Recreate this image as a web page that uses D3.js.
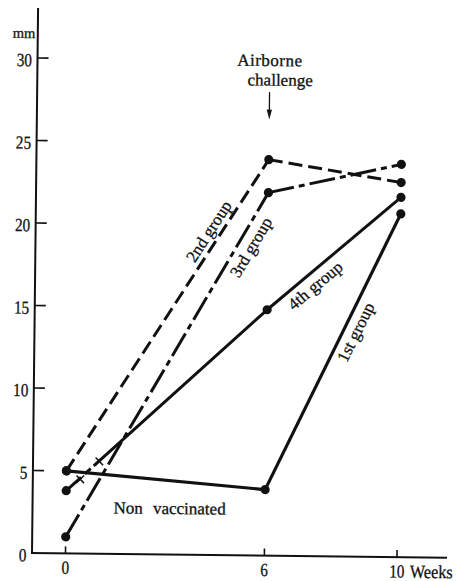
<!DOCTYPE html>
<html>
<head>
<meta charset="utf-8">
<script src="https://cdn.jsdelivr.net/npm/d3@7"></script>
<style>
  html, body { margin: 0; padding: 0; background: #fff; }
  svg { display: block; }
  text { stroke: #111; stroke-width: 0.3px; }
</style>
</head>
<body>
<svg id="chart" width="460" height="581"></svg>
<script>
// Skin reaction (mm) per group, measured at weeks 0, 6 and 10
const weeks = [0, 6, 10];
const firstGroup  = [5.0, 4.0, 20.8];   // non vaccinated until week 6
const secondGroup = [5.0, 24.0, 22.7];
const thirdGroup  = [1.0, 22.0, 23.8];
const fourthGroup = [3.8, 14.9, 21.8];

// intermediate readings marked with a cross on the 4th group
const crossWeeks  = [0.42, 0.99];
const crossValues = [4.5, 5.6];

const yTicks = [0, 5, 10, 15, 20, 25, 30];
const yTickLabels = ["0", "5", "10", "15", "20", "25", "30"];
const xTicks = [0, 6, 10];
const xTickLabels = ["0", "6", "10"];

const serif = "'Liberation Serif', 'DejaVu Serif', serif";

const svg = d3.select("#chart");

const x = d3.scaleLinear().domain([0, 10]).range([65.5, 397]);
const y = d3.scaleLinear().domain([0, 30]).range([553, 58]);
const axisLeft = 32, axisBottom = 553, axisTop = 8, axisRight = 447;

// the printed figure sits slightly askew on the page
const g = svg.append("g")
  .attr("transform", `rotate(0.64, ${axisLeft}, ${axisBottom})`)
  .attr("font-family", serif)
  .attr("fill", "#111");

// axes
g.append("line").attr("x1", axisLeft).attr("x2", axisLeft).attr("y1", axisTop).attr("y2", axisBottom)
  .attr("stroke", "#111").attr("stroke-width", 2);
g.append("line").attr("x1", axisLeft - 1).attr("x2", axisRight).attr("y1", axisBottom).attr("y2", axisBottom)
  .attr("stroke", "#111").attr("stroke-width", 2);

yTicks.forEach((v, i) => {
  if (v > 0) {
    g.append("line").attr("x1", axisLeft).attr("x2", axisLeft + 11).attr("y1", y(v)).attr("y2", y(v))
      .attr("stroke", "#111").attr("stroke-width", 1.6);
  }
  g.append("text")
    .attr("transform", `translate(${axisLeft - 5.5},${y(v) + 8.3}) scale(0.82,1)`)
    .attr("text-anchor", "end").attr("font-size", 18.5)
    .text(yTickLabels[i]);
});

xTicks.forEach((w, i) => {
  g.append("line").attr("x1", x(w)).attr("x2", x(w)).attr("y1", axisBottom).attr("y2", axisBottom - 7)
    .attr("stroke", "#111").attr("stroke-width", 1.6);
  g.append("text")
    .attr("transform", `translate(${x(w)},${axisBottom + 20.5}) scale(0.82,1)`)
    .attr("text-anchor", "middle").attr("font-size", 18.5)
    .text(xTickLabels[i]);
});
g.append("text")
  .attr("transform", `translate(${x(10) + 13},${axisBottom + 20.5}) scale(0.88,1)`)
  .attr("font-size", 18.5).text("Weeks");

g.append("text").attr("x", 7).attr("y", 38).attr("font-size", 14.5).text("mm");

// series lines, drawn segment by segment so each dash pattern restarts at a reading
const series = [
  { values: firstGroup,  dash: null,       width: 3.2 },
  { values: secondGroup, dash: "14,6",     width: 3 },
  { values: thirdGroup,  dash: "26,5,6,5", width: 3 },
  { values: fourthGroup, dash: null,       width: 3 }
];
const line = d3.line().x(d => x(d[0])).y(d => y(d[1]));

series.forEach((s, k) => {
  const pts = weeks.map((w, i) => [w, s.values[i]]);
  for (let i = 0; i < pts.length - 1; i++) {
    const p = g.append("path").attr("d", line([pts[i], pts[i + 1]]))
      .attr("fill", "none").attr("stroke", "#111").attr("stroke-width", s.width);
    if (s.dash) p.attr("stroke-dasharray", s.dash);
    // 4th group starts broken around the two crossed readings
    if (k === 3 && i === 0) p.attr("stroke-dasharray", "20,5,8,4,2000");
  }
  pts.forEach(d => {
    g.append("circle").attr("cx", x(d[0])).attr("cy", y(d[1])).attr("r", 4.6).attr("fill", "#111");
  });
});

// crosses
crossWeeks.forEach((w, i) => {
  g.append("path")
    .attr("transform", `translate(${x(w)},${y(crossValues[i])})`)
    .attr("d", "M-3.8,-3.8L3.8,3.8M-3.8,3.8L3.8,-3.8")
    .attr("stroke", "#111").attr("stroke-width", 1.5).attr("fill", "none");
});

// group labels placed along a segment: t = fraction along it, off = distance to its left (+) / right (-)
function segmentLabel(values, seg, t, off, label) {
  const x0 = x(weeks[seg]), y0 = y(values[seg]);
  const x1 = x(weeks[seg + 1]), y1 = y(values[seg + 1]);
  const dx = x1 - x0, dy = y1 - y0, len = Math.hypot(dx, dy);
  const ux = dx / len, uy = dy / len;
  const nx = uy, ny = -ux; // left-hand normal
  const cx = x0 + dx * t + nx * off;
  const cy = y0 + dy * t + ny * off;
  const angle = Math.atan2(dy, dx) * 180 / Math.PI;
  g.append("text")
    .attr("transform", `translate(${cx},${cy}) rotate(${angle})`)
    .attr("text-anchor", "middle").attr("dy", "0.32em").attr("font-size", 17)
    .text(label);
}
segmentLabel(secondGroup, 0, 0.75, 11, "2nd group");
segmentLabel(thirdGroup, 0, 0.86, -13, "3rd group");
segmentLabel(fourthGroup, 1, 0.30, -12.5, "4th group");
segmentLabel(firstGroup, 1, 0.59, -12, "1st group");

g.append("text").attr("x", 113).attr("y", 512.5).attr("font-size", 17)
  .attr("word-spacing", 6).text("Non vaccinated");

// challenge annotation
g.append("text").attr("x", x(6)).attr("y", 63.4).attr("text-anchor", "middle")
  .attr("font-size", 17).attr("letter-spacing", 0.5).text("Airborne");
g.append("text").attr("x", x(6) + 10.5).attr("y", 83).attr("text-anchor", "middle")
  .attr("font-size", 17).text("challenge");
g.append("line").attr("x1", x(6)).attr("x2", x(6)).attr("y1", 89.5).attr("y2", 112)
  .attr("stroke", "#111").attr("stroke-width", 1.3);
g.append("path")
  .attr("d", `M${x(6) - 2.6},${107}L${x(6)},${117}L${x(6) + 2.6},${107}Z`)
  .attr("fill", "#111").attr("stroke", "none");
</script>
</body>
</html>
